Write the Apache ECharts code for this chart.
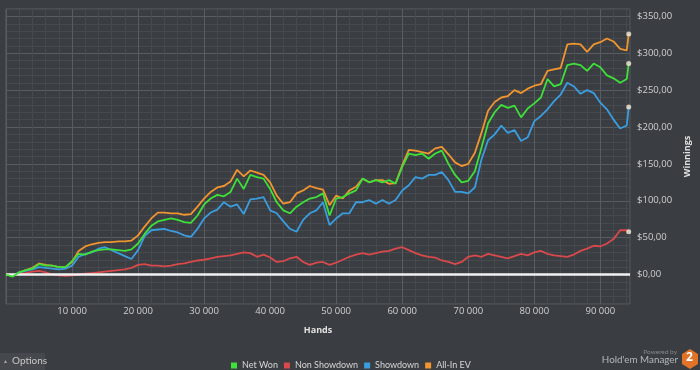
<!DOCTYPE html>
<html>
<head>
<meta charset="utf-8">
<script src="https://cdn.jsdelivr.net/npm/echarts@6/dist/echarts.min.js"></script>
<style>
html,body{margin:0;padding:0;background:#3a3d41;}
#chart{width:700px;height:370px;}
</style>
</head>
<body>
<div id="chart"></div>
<script>
// Hands (x values)
const hands = [0,1000,2000,3000,4000,5000,6000,7000,8000,9000,10000,11000,12000,13000,14000,15000,16000,17000,18000,19000,
20000,21000,22000,23000,24000,25000,26000,27000,28000,29000,30000,31000,32000,33000,34000,35000,36000,37000,38000,39000,
40000,41000,42000,43000,44000,45000,46000,47000,48000,49000,50000,51000,52000,53000,54000,55000,56000,57000,58000,59000,
60000,61000,62000,63000,64000,65000,66000,67000,68000,69000,70000,71000,72000,73000,74000,75000,76000,77000,78000,79000,
80000,81000,82000,83000,84000,85000,86000,87000,88000,89000,90000,91000,92000,93000,94000,94300];

const netWon = [0,-3,3,6,8,14,12,12,10,10,18,28,27,31,33,34,34,33,32,34,
42,55,66,72,74,76,74,71,70,80,95,103,108,106,112,130,116,135,132,130,
116,98,87,83,92,98,103,105,110,80,103,105,110,114,130,125,128,125,128,123,
146,164,162,164,157,164,168,150,135,125,127,140,172,205,220,230,226,229,213,225,
232,240,265,255,258,284,286,284,276,286,281,270,266,260,265,286];

const nonShowdown = [0,-1,1,2,4,5,3,0,-1,-2,-1,0,1,2,3,4,5,6,7,9,
13,14,12,12,11,12,14,15,17,19,20,22,24,25,26,28,30,29,24,27,
23,17,18,22,24,17,13,16,17,13,16,20,24,27,29,27,29,31,32,35,
37,33,29,26,24,23,19,17,14,17,24,26,24,28,26,24,22,25,28,26,
30,32,28,26,25,24,27,32,35,39,38,42,48,60,60,58];

const showdown = [0,-2,3,5,7,10,9,8,7,8,12,24,28,30,35,37,33,29,25,21,
33,52,60,61,62,59,57,53,51,62,76,84,88,98,92,95,82,102,103,105,
87,83,72,62,58,74,83,87,98,67,76,83,83,98,98,101,96,101,96,101,
114,121,132,130,135,135,139,128,112,112,110,118,156,182,190,202,192,196,181,186,
208,215,224,235,244,260,255,245,250,246,233,224,210,198,202,227];

const allInEV = [0,-2,3,6,9,15,13,12,10,10,17,32,38,41,43,44,44,45,45,46,
53,65,76,84,84,83,83,81,82,92,103,112,118,120,126,142,133,141,138,135,
125,107,96,98,110,114,120,117,115,94,107,103,114,119,130,125,128,128,123,124,
148,169,168,166,164,171,173,163,152,147,150,165,192,222,234,240,242,250,246,252,
256,258,276,278,280,312,313,312,302,312,315,320,316,306,304,326];

const seriesNames = ['Net Won','Non Showdown','Showdown','All-In EV'];
const seriesColors = {'Net Won':'#3ee03a','Non Showdown':'#d9494b','Showdown':'#3a9de0','All-In EV':'#f0952f'};
const yTickStep = 50;
const xTickStep = 10000;

const pair = vals => hands.map((h,i)=>[h, vals[i]]);
const minorC = '#46494d', majorC = '#595c60';

const chart = echarts.init(document.getElementById('chart'), null, {renderer:'canvas'});
const lineSeries = (name, vals, z) => ({
  name, type:'line', data: pair(vals), showSymbol:false, symbol:'none',
  lineStyle:{width:1.8, color: seriesColors[name]}, itemStyle:{color: seriesColors[name]},
  z, animation:false
});
const last = hands.length - 1;
const ends = [netWon, nonShowdown, showdown, allInEV].map(v => [hands[last], v[last]]);

const option = {
  backgroundColor:'#3a3d41',
  animation:false,
  textStyle:{fontFamily:'"Open Sans", "Noto Sans", sans-serif'},
  grid:{left:6, right:61, top:9, bottom:66, show:true, borderColor:'#5c5f63', borderWidth:1, backgroundColor:'transparent'},
  legend:{
    data: seriesNames, left:226, top:356, itemWidth:6, itemHeight:6, itemGap:6, icon:'rect',
    textStyle:{color:'#d6d6d6', fontSize:9, fontFamily:'Lato, sans-serif'}
  },
  xAxis:{
    type:'value', min:0, max:94500, interval:2000,
    axisLine:{show:false}, axisTick:{show:false},
    axisLabel:{color:'#d0d0d0', fontSize:9.5, margin:2,
      formatter: v => (v % xTickStep === 0 && v > 0) ? (v/1000) + ' 000' : ''},
    splitLine:{show:true, lineStyle:{color:[majorC, minorC, minorC, minorC, minorC], width:1}},
    name:'Hands', nameLocation:'middle', nameGap:22,
    nameTextStyle:{color:'#e2e2e2', fontWeight:'bold', fontSize:9}
  },
  yAxis:{
    type:'value', position:'right', min:-40, max:360, interval:10,
    axisLine:{show:false}, axisTick:{show:false},
    axisLabel:{color:'#d0d0d0', fontSize:9.5, margin:7,
      formatter: v => (v % yTickStep === 0 && v >= 0) ? '$' + v.toFixed(2).replace('.', ',') : ''},
    splitLine:{show:true, lineStyle:{color:[minorC, minorC, minorC, minorC, majorC], width:1}},
    name:'Winnings', nameLocation:'middle', nameGap:44, nameRotate:90,
    nameTextStyle:{color:'#e2e2e2', fontWeight:'bold', fontSize:9}
  },
  series:[
    lineSeries('All-In EV', allInEV, 2),
    lineSeries('Showdown', showdown, 3),
    lineSeries('Non Showdown', nonShowdown, 4),
    Object.assign(lineSeries('Net Won', netWon, 5), {
      markLine:{silent:true, symbol:'none', label:{show:false},
        lineStyle:{color:'#f2f2f2', width:2.5, type:'solid'},
        data:[{yAxis:0}], animation:false}
    }),
    {type:'scatter', data: ends, symbolSize:5, itemStyle:{color:'#f6eed8'}, z:10, silent:true, animation:false}
  ],
  graphic:[
    {type:'rect', left:0, top:353, shape:{width:45, height:17}, style:{fill:'#45484c'}},
    {type:'text', left:3, top:359, style:{text:'▲', fill:'#a8a8a8', fontSize:5}},
    {type:'text', left:12, top:356, style:{text:'Options', fill:'#c8c8c8', fontSize:10, fontFamily:'Lato, sans-serif'}},
    {type:'text', right:23, top:348, style:{text:'Powered by', fill:'#85888c', fontSize:6.5, fontFamily:'Lato, sans-serif'}},
    {type:'text', right:22, top:355, style:{text:"Hold'em Manager", fill:'#b5b8bb', fontSize:9.8, fontFamily:'Lato, sans-serif'}},
    {type:'polygon', shape:{points:[[690,349],[698,354],[698,364],[690,369],[682,364],[682,354]]}, style:{fill:'#e07328'}},
    {type:'text', left:686, top:352, style:{text:'2', fill:'#ffffff', fontSize:12, fontWeight:'bold', fontFamily:'"Open Sans", sans-serif'}}
  ]
};
chart.setOption(option);
</script>
</body>
</html>
